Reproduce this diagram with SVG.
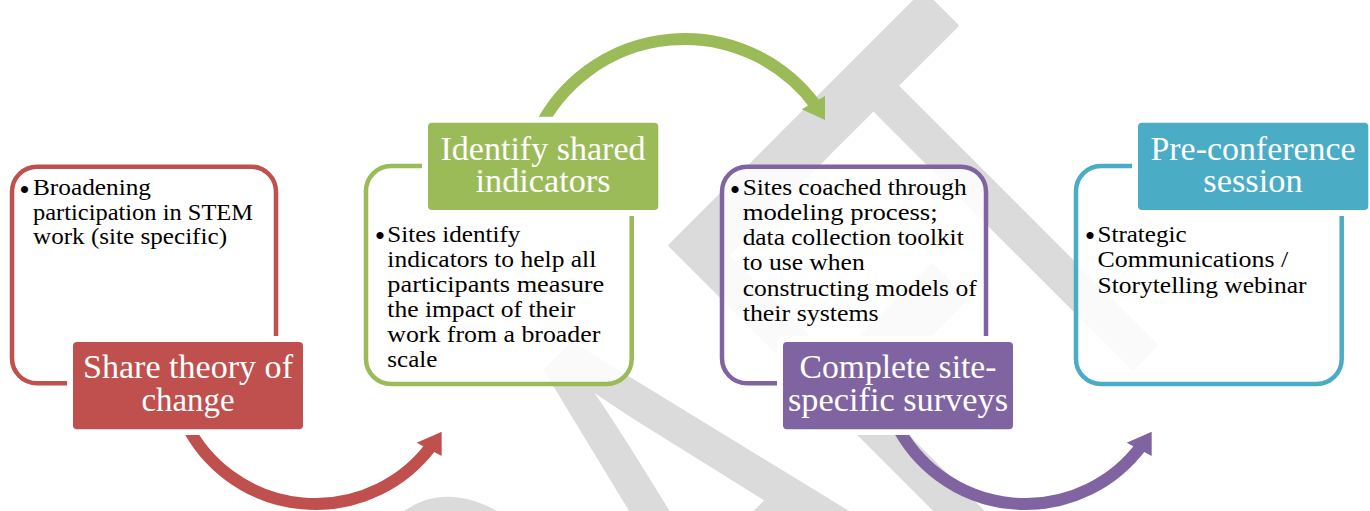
<svg xmlns="http://www.w3.org/2000/svg" width="1370" height="511" viewBox="0 0 1370 511">
<defs>
<style>
.wm{font-family:"Liberation Sans",Arial,sans-serif;font-size:600px;fill:#dbdbdb;stroke:#dbdbdb;stroke-width:5;stroke-linejoin:round}
.fill{fill:#ffffff;fill-opacity:0.85;stroke:none}
.outline{fill:none;stroke-width:4.5}
.halo{fill:#ffffff}
.ht{font-family:"Liberation Serif","Times New Roman",serif;font-size:33px;fill:#ffffff;text-anchor:middle}
.bt{font-family:"Liberation Serif","Times New Roman",serif;font-size:24px;fill:#000000}
.bu{font-family:"Liberation Serif","Times New Roman",serif;font-size:30px;fill:#000000}
.arc{fill:none;stroke-width:12}
</style>
</defs>
<rect x="0" y="0" width="1370" height="511" fill="#ffffff"/>
<g id="watermark">
<text class="wm" transform="rotate(-45) scale(0.6,1)" x="-830 -397 36.7 450.8 745.2" y="1061">DRAFT</text>
</g>
<g id="connectors">
<path class="arc" stroke="#9bbb59" d="M538.2,130.4 A162.8,162.8 0 0 1 816.2,106.1"/>
<polygon fill="#9bbb59" points="801.7,109.3 825,96 825,120"/>
<path class="arc" stroke="#c0504d" d="M185.6,422.8 A144.5,144.5 0 0 0 431.7,445.4"/>
<polygon fill="#c0504d" points="416.7,442.7 441.7,431.7 441.7,456"/>
<path class="arc" stroke="#8064a2" d="M895.6,422.8 A144.5,144.5 0 0 0 1141.7,445.4"/>
<polygon fill="#8064a2" points="1126.7,442.7 1151.7,431.7 1151.7,456"/>
</g>
<g id="node-share-theory">
<rect class="fill" x="12" y="166.7" width="264" height="216.6" rx="25"/>
<rect class="outline" stroke="#c0504d" x="12" y="166.7" width="264" height="216.6" rx="25"/>
<text class="bu" x="19.3" y="199.5">•</text>
<text class="bt" x="33" y="195" textLength="118" lengthAdjust="spacingAndGlyphs">Broadening</text>
<text class="bt" x="33" y="219.5" textLength="220" lengthAdjust="spacingAndGlyphs">participation in STEM</text>
<text class="bt" x="33" y="244" textLength="194" lengthAdjust="spacingAndGlyphs">work (site specific)</text>
<rect class="halo" x="67" y="336" width="242" height="99" rx="9"/>
<rect fill="#c0504d" x="73" y="342" width="230" height="87.3" rx="4"/>
<text class="ht" x="188" y="378" textLength="210" lengthAdjust="spacingAndGlyphs">Share theory of</text>
<text class="ht" x="188" y="410.5" textLength="93" lengthAdjust="spacingAndGlyphs">change</text>
</g>
<g id="node-identify-indicators">
<rect class="fill" x="366" y="166" width="265.7" height="218" rx="25"/>
<rect class="outline" stroke="#9bbb59" x="366" y="166" width="265.7" height="218" rx="25"/>
<text class="bu" x="374.7" y="246.2">•</text>
<text class="bt" x="387.3" y="241.7" textLength="133" lengthAdjust="spacingAndGlyphs">Sites identify</text>
<text class="bt" x="387.3" y="266.8" textLength="209" lengthAdjust="spacingAndGlyphs">indicators to help all</text>
<text class="bt" x="387.3" y="292" textLength="217" lengthAdjust="spacingAndGlyphs">participants measure</text>
<text class="bt" x="387.3" y="317" textLength="188" lengthAdjust="spacingAndGlyphs">the impact of their</text>
<text class="bt" x="387.3" y="342" textLength="213" lengthAdjust="spacingAndGlyphs">work from a broader</text>
<text class="bt" x="387.3" y="367.3" textLength="50" lengthAdjust="spacingAndGlyphs">scale</text>
<rect class="halo" x="422" y="116.7" width="242.3" height="99.3" rx="9"/>
<rect fill="#9bbb59" x="428" y="122.7" width="230.3" height="87.3" rx="4"/>
<text class="ht" x="543" y="159.5" textLength="205" lengthAdjust="spacingAndGlyphs">Identify shared</text>
<text class="ht" x="543" y="191.7" textLength="135" lengthAdjust="spacingAndGlyphs">indicators</text>
</g>
<g id="node-complete-surveys">
<rect class="fill" x="722" y="166.7" width="264" height="216.6" rx="25"/>
<rect class="outline" stroke="#8064a2" x="722" y="166.7" width="264" height="216.6" rx="25"/>
<text class="bu" x="729.7" y="199.5">•</text>
<text class="bt" x="742.7" y="195" textLength="224" lengthAdjust="spacingAndGlyphs">Sites coached through</text>
<text class="bt" x="742.7" y="220" textLength="195" lengthAdjust="spacingAndGlyphs">modeling process;</text>
<text class="bt" x="742.7" y="245" textLength="221" lengthAdjust="spacingAndGlyphs">data collection toolkit</text>
<text class="bt" x="742.7" y="270" textLength="122" lengthAdjust="spacingAndGlyphs">to use when</text>
<text class="bt" x="742.7" y="295.5" textLength="234" lengthAdjust="spacingAndGlyphs">constructing models of</text>
<text class="bt" x="742.7" y="320.5" textLength="136" lengthAdjust="spacingAndGlyphs">their systems</text>
<rect class="halo" x="777" y="336" width="242" height="99" rx="9"/>
<rect fill="#8064a2" x="783" y="342" width="230" height="87.3" rx="4"/>
<text class="ht" x="898" y="378" textLength="197" lengthAdjust="spacingAndGlyphs">Complete site-</text>
<text class="ht" x="898" y="410.5" textLength="220" lengthAdjust="spacingAndGlyphs">specific surveys</text>
</g>
<g id="node-pre-conference">
<rect class="fill" x="1076" y="166" width="265.7" height="218" rx="25"/>
<rect class="outline" stroke="#4bacc6" x="1076" y="166" width="265.7" height="218" rx="25"/>
<text class="bu" x="1084.7" y="246.2">•</text>
<text class="bt" x="1097.5" y="241.7" textLength="89" lengthAdjust="spacingAndGlyphs">Strategic</text>
<text class="bt" x="1097.5" y="266.8" textLength="190.7" lengthAdjust="spacingAndGlyphs">Communications /</text>
<text class="bt" x="1097.5" y="292.5" textLength="209" lengthAdjust="spacingAndGlyphs">Storytelling webinar</text>
<rect class="halo" x="1132" y="116.7" width="242.3" height="99.3" rx="9"/>
<rect fill="#4bacc6" x="1138" y="122.7" width="230.3" height="87.3" rx="4"/>
<text class="ht" x="1253" y="160" textLength="205" lengthAdjust="spacingAndGlyphs">Pre-conference</text>
<text class="ht" x="1253" y="191.7" textLength="99.3" lengthAdjust="spacingAndGlyphs">session</text>
</g>
</svg>
